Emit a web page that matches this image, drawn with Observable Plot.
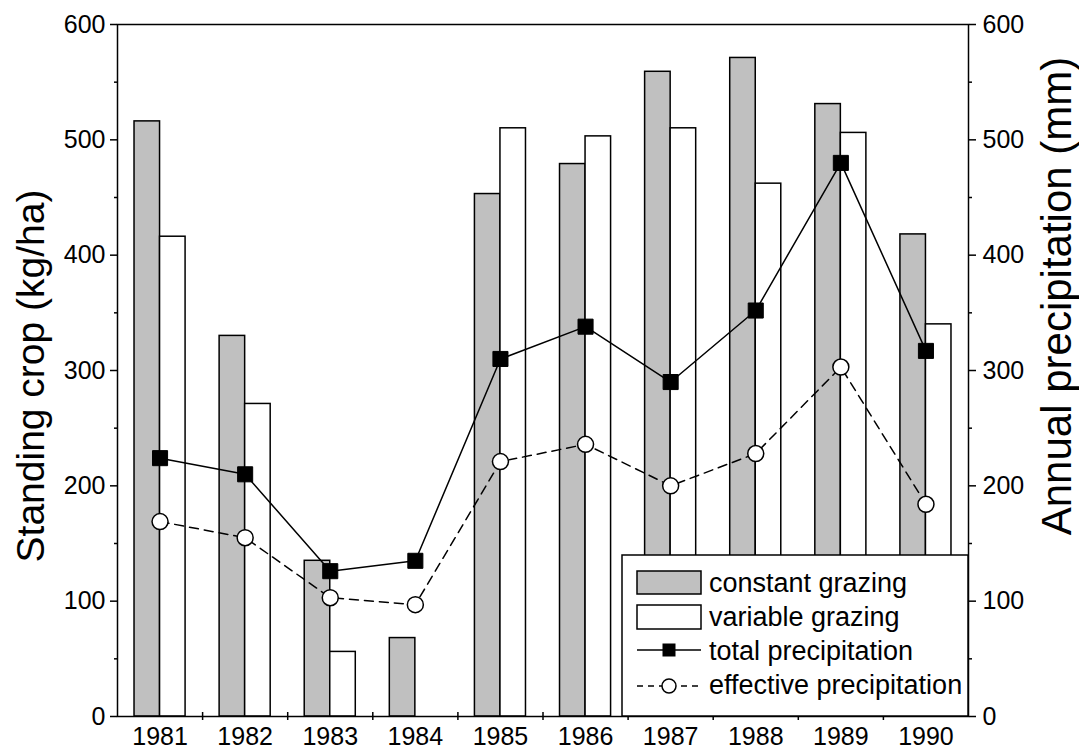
<!DOCTYPE html>
<html>
<head>
<meta charset="utf-8">
<script src="https://cdn.jsdelivr.net/npm/d3@7"></script>
<script src="https://cdn.jsdelivr.net/npm/@observablehq/plot@0.6"></script>
<style>
  html, body { margin: 0; padding: 0; background: #fff; }
  svg { display: block; }
</style>
</head>
<body>
<script>
const years = [1981, 1982, 1983, 1984, 1985, 1986, 1987, 1988, 1989, 1990];
const constantGrazing = [516, 330, 135, 68, 453, 479, 559, 571, 531, 418];
const variableGrazing = [416, 271, 56, null, 510, 503, 510, 462, 506, 340];
const totalPrecip = [224, 210, 126, 135, 310, 338, 290, 352, 480, 317];
const effectivePrecip = [169, 155, 103, 97, 221, 236, 200, 228, 303, 184];
const yTicks = [0, 100, 200, 300, 400, 500, 600];
const yMinorTicks = [50, 150, 250, 350, 450, 550];
const yearBoundaries = [1981.5, 1982.5, 1983.5, 1984.5, 1985.5, 1986.5, 1987.5, 1988.5, 1989.5];
const legendLabels = ["constant grazing", "variable grazing", "total precipitation", "effective precipitation"];
const leftTitle = "Standing crop (kg/ha)";
const rightTitle = "Annual precipitation (mm)";

const rows = years.map((year, i) => ({
  year,
  constant: constantGrazing[i],
  variable: variableGrazing[i],
  total: totalPrecip[i],
  effective: effectivePrecip[i]
}));

const FONT = "'Liberation Sans', Arial, Helvetica, sans-serif";
const GREY = "#c0c0c0";
const SW = 1.5;

const chart = Plot.plot({
  width: 1079,
  height: 751,
  marginLeft: 117,
  marginRight: 111,
  marginTop: 24,
  marginBottom: 35,
  style: { fontFamily: FONT, color: "black", background: "white" },
  x: { type: "linear", domain: [1980.5, 1990.5] },
  y: { domain: [0, 600] },
  marks: [
    Plot.rectY(rows.filter(d => d.constant != null), {
      x1: d => d.year - 0.3, x2: d => d.year, y: "constant",
      fill: GREY, stroke: "black", strokeWidth: SW
    }),
    Plot.rectY(rows.filter(d => d.variable != null), {
      x1: d => d.year, x2: d => d.year + 0.3, y: "variable",
      fill: "white", stroke: "black", strokeWidth: SW
    }),
    Plot.line(rows, { x: "year", y: "effective", stroke: "black", strokeWidth: SW, strokeDasharray: "9,6" }),
    Plot.line(rows, { x: "year", y: "total", stroke: "black", strokeWidth: SW }),
    Plot.dot(rows, { x: "year", y: "total", symbol: "square", r: 8.5, fill: "black", stroke: "black", strokeWidth: 1 }),
    Plot.dot(rows, { x: "year", y: "effective", symbol: "circle", r: 8, fill: "white", stroke: "black", strokeWidth: SW }),
    Plot.axisY({ anchor: "left", ticks: yTicks, tickSize: 7, tickPadding: 5, fontSize: 25, strokeWidth: SW, label: null, tickFormat: d => String(d) }),
    Plot.axisY({ anchor: "left", ticks: yMinorTicks, tickSize: 3, strokeWidth: SW, label: null, tickFormat: () => "" }),
    Plot.axisY({ anchor: "right", ticks: yTicks, tickSize: 7, tickPadding: 7, fontSize: 25, strokeWidth: SW, label: null, tickFormat: d => String(d) }),
    Plot.axisY({ anchor: "right", ticks: yMinorTicks, tickSize: 3, strokeWidth: SW, label: null, tickFormat: () => "" }),
    Plot.axisX({ anchor: "bottom", ticks: years, tickSize: 0, tickPadding: 11, fontSize: 25, label: null, tickFormat: d => String(d) }),
    Plot.axisX({ anchor: "bottom", ticks: yearBoundaries, tickSize: 4, strokeWidth: SW, label: null, tickFormat: () => "" }),
    Plot.axisX({ anchor: "bottom", ticks: yearBoundaries, tickSize: -4, strokeWidth: SW, label: null, tickFormat: () => "" }),
    Plot.frame({ stroke: "black", strokeWidth: SW })
  ]
});

document.body.append(chart);

const svg = d3.select(chart);

// Axis titles
svg.append("text")
  .attr("transform", "translate(44,376) rotate(-90)")
  .attr("text-anchor", "middle")
  .attr("font-family", FONT)
  .attr("font-size", 39)
  .attr("fill", "black")
  .text(leftTitle);

svg.append("text")
  .attr("transform", "translate(1071,296) rotate(-90)")
  .attr("text-anchor", "middle")
  .attr("font-family", FONT)
  .attr("font-size", 42)
  .attr("fill", "black")
  .text(rightTitle);

// Legend
const lg = svg.append("g");
lg.append("rect")
  .attr("x", 622).attr("y", 555).attr("width", 346).attr("height", 161)
  .attr("fill", "white").attr("stroke", "black").attr("stroke-width", SW);

const rowY = [582.5, 617, 650, 686];
const baseY = [592, 626, 660, 694];
const sx1 = 637, sx2 = 701, scx = 669;

lg.append("rect").attr("x", sx1).attr("y", 571).attr("width", sx2 - sx1).attr("height", 23)
  .attr("fill", GREY).attr("stroke", "black").attr("stroke-width", SW);
lg.append("rect").attr("x", sx1).attr("y", 605).attr("width", sx2 - sx1).attr("height", 24)
  .attr("fill", "white").attr("stroke", "black").attr("stroke-width", SW);
lg.append("line").attr("x1", sx1).attr("x2", sx2).attr("y1", rowY[2]).attr("y2", rowY[2])
  .attr("stroke", "black").attr("stroke-width", SW);
lg.append("rect").attr("x", scx - 6.5).attr("y", rowY[2] - 6.5).attr("width", 13).attr("height", 13)
  .attr("fill", "black");
lg.append("line").attr("x1", sx1).attr("x2", sx2).attr("y1", rowY[3]).attr("y2", rowY[3])
  .attr("stroke", "black").attr("stroke-width", SW).attr("stroke-dasharray", "6,5");
lg.append("circle").attr("cx", scx).attr("cy", rowY[3]).attr("r", 7)
  .attr("fill", "white").attr("stroke", "black").attr("stroke-width", SW);

legendLabels.forEach((label, i) => {
  lg.append("text")
    .attr("x", 709).attr("y", baseY[i])
    .attr("text-anchor", "start")
    .attr("font-family", FONT).attr("font-size", 27).attr("fill", "black")
    .text(label);
});
</script>
</body>
</html>
